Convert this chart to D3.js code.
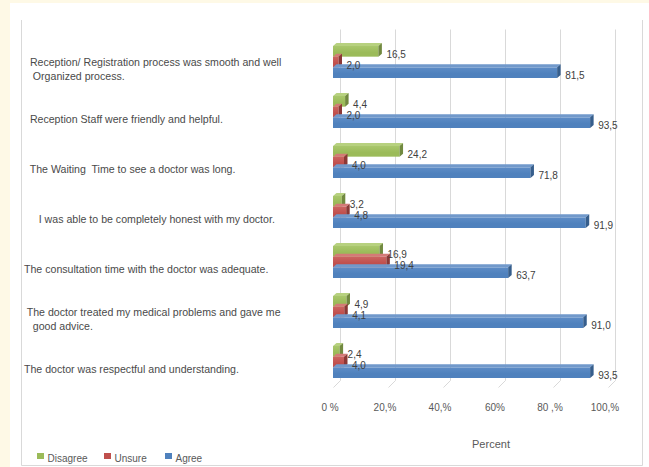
<!DOCTYPE html>
<html>
<head>
<meta charset="utf-8">
<script src="https://cdn.jsdelivr.net/npm/d3@7"></script>
<style>
  html, body { margin: 0; padding: 0; background: #fef9e6; }
  svg { display: block; }
  text { font-family: "Liberation Sans", Arial, sans-serif; white-space: pre; }
</style>
</head>
<body>
<svg id="chart" width="649" height="467"></svg>
<script>
// ---------- DATA ----------
const categories = [
  ["  Reception/ Registration process was smooth and well", "   Organized process."],
  ["  Reception Staff were friendly and helpful."],
  ["  The Waiting  Time to see a doctor was long."],
  ["     I was able to be completely honest with my doctor."],
  ["The consultation time with the doctor was adequate."],
  [" The doctor treated my medical problems and gave me", "   good advice."],
  ["The doctor was respectful and understanding."]
];
const seriesNames = ["Disagree", "Unsure", "Agree"];
const disagree = [16.5, 4.4, 24.2, 3.2, 16.9, 4.9, 2.4];
const unsure   = [2.0, 2.0, 4.0, 4.8, 19.4, 4.1, 4.0];
const agree    = [81.5, 93.5, 71.8, 91.9, 63.7, 91.0, 93.5];
const tickValues = [0, 20, 40, 60, 80, 100];
const tickLabels = ["0 %", "20,%", "40,%", "60%", "80 ,%", "100,%"];
const axisTitle = "Percent";

// ---------- STYLE / LAYOUT ----------
const colors = {
  Disagree: { front: "#9bbb59", top: "#b7d17f", side: "#71893f", hi: "#a9c76c" },
  Unsure:   { front: "#c0504d", top: "#d47a77", side: "#8c3836", hi: "#cc6461" },
  Agree:    { front: "#4f81bd", top: "#7199cb", side: "#365e8c", hi: "#5d8cc6" }
};
const seriesData = [disagree, unsure, agree];
const dx = 3.5, dy = -3;     // bar depth
const wx = 7, wy = -7;       // back wall offset

const svg = d3.select("#chart");

// white panel
svg.append("rect").attr("x", 10).attr("y", 3).attr("width", 639).attr("height", 464).attr("fill", "#ffffff");
// frame lines
const frame = svg.append("g").attr("stroke", "#d9d9d9").attr("stroke-width", 1).attr("fill", "none");
frame.append("path").attr("d", "M21.5,20 V465.5 H642.5 V20");

const x = d3.scaleLinear().domain([0, 100]).range([333, 608]);
const catIdx = d3.range(categories.length);
const y = d3.scaleBand().domain(catIdx).range([36.5, 387.5]).paddingInner(0.36).paddingOuter(0.19);
const ys = d3.scaleBand().domain(seriesNames).range([0, y.bandwidth()]);

// gridlines on back wall + floor
const grid = svg.append("g").attr("stroke", "#d9d9d9").attr("stroke-width", 1).attr("fill", "none");
const wallTop = 36.5 + wy, wallBot = 387.5 + wy;
tickValues.forEach(v => {
  const gx = Math.round(x(v) + wx) + 0.5;
  grid.append("path").attr("d", `M${gx},${wallTop} V${wallBot} L${gx - wx},${wallBot - wy}`);
});

// gradients
const defs = svg.append("defs");
seriesNames.forEach(s => {
  const g = defs.append("linearGradient").attr("id", "g" + s).attr("x1", 0).attr("y1", 0).attr("x2", 0).attr("y2", 1);
  g.append("stop").attr("offset", "0%").attr("stop-color", colors[s].hi);
  g.append("stop").attr("offset", "60%").attr("stop-color", colors[s].front);
  g.append("stop").attr("offset", "100%").attr("stop-color", colors[s].front);
});

// bars
const bars = svg.append("g");
catIdx.forEach(i => {
  seriesNames.forEach((s, k) => {
    const v = seriesData[k][i];
    const y0 = y(i) + ys(s), h = ys.bandwidth();
    const x0 = x(0), x1 = x(v);
    const c = colors[s];
    bars.append("rect").attr("x", x0).attr("y", y0).attr("width", x1 - x0).attr("height", h)
      .attr("fill", `url(#g${s})`);
    bars.append("path")
      .attr("d", `M${x0},${y0} L${x0 + dx},${y0 + dy} L${x1 + dx},${y0 + dy} L${x1},${y0} Z`)
      .attr("fill", c.top);
    bars.append("path")
      .attr("d", `M${x1},${y0} L${x1 + dx},${y0 + dy} L${x1 + dx},${y0 + h + dy} L${x1},${y0 + h} Z`)
      .attr("fill", c.side);
  });
});

// value labels
const fmt = v => d3.format(".1f")(v).replace(".", ",");
const vl = svg.append("g").attr("font-size", "10px").attr("fill", "#404040");
catIdx.forEach(i => {
  seriesNames.forEach((s, k) => {
    const v = seriesData[k][i];
    vl.append("text")
      .attr("x", x(v) + 8)
      .attr("y", y(i) + ys(s) + ys.bandwidth() / 2 + 3)
      .attr("dominant-baseline", "central")
      .text(fmt(v));
  });
});

// category labels
const cl = svg.append("g").attr("font-size", "10.6px").attr("fill", "#4a4a4a");
catIdx.forEach(i => {
  const lines = categories[i];
  const cy = y(i) + y.bandwidth() / 2 + 6.5;
  const lh = 14;
  lines.forEach((ln, j) => {
    cl.append("text")
      .attr("x", 24)
      .attr("y", cy + (j - (lines.length - 1) / 2) * lh)
      .attr("dominant-baseline", "central")
      .text(ln);
  });
});

// tick labels
const tl = svg.append("g").attr("font-size", "10px").attr("fill", "#595959").attr("text-anchor", "middle");
tickValues.forEach((v, i) => {
  tl.append("text").attr("x", x(v) - 3).attr("y", 407).attr("dominant-baseline", "central").text(tickLabels[i]);
});

// axis title
svg.append("text").attr("x", 491).attr("y", 444).attr("text-anchor", "middle")
  .attr("dominant-baseline", "central").attr("font-size", "11px").attr("fill", "#595959").text(axisTitle);

// legend
const legX = [37, 104, 165];
const lg = svg.append("g").attr("font-size", "10px").attr("fill", "#595959");
seriesNames.forEach((s, k) => {
  lg.append("rect").attr("x", legX[k]).attr("y", 453).attr("width", 7).attr("height", 6).attr("fill", colors[s].front);
  lg.append("text").attr("x", legX[k] + 10.5).attr("y", 458).attr("dominant-baseline", "central").text(s);
});
</script>
</body>
</html>
